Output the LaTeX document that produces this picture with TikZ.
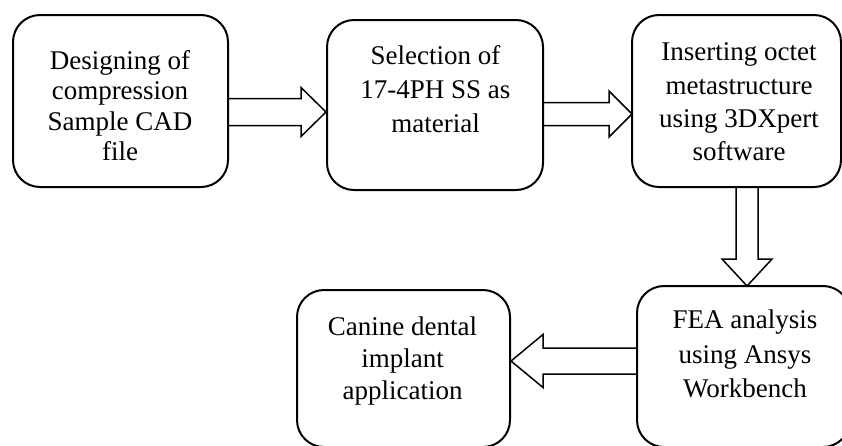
\documentclass[tikz,border=0pt]{standalone}
\usepackage{fontspec}
\setmainfont{Liberation Serif}
\usetikzlibrary{calc}

\tikzset{
  stepbox/.style={draw=black, line width=2pt, rounded corners=27pt, inner sep=0pt},
  steptext/.style={anchor=north, align=center, inner sep=0pt, text=black},
  barrow/.style={draw=black, line width=1.5pt, line join=miter},
}

% Outlined block arrow: start, tip, shaft half-width, head half-width, head length
\newcommand\blockarrow[5]{%
  \coordinate (ba-s) at #1;
  \coordinate (ba-t) at #2;
  \coordinate (ba-h) at ($(ba-t)!#5!(ba-s)$);
  \draw[barrow] ($(ba-s)!#3!90:(ba-t)$) -- ($(ba-h)!#3!90:(ba-t)$)
    -- ($(ba-h)!#4!90:(ba-t)$) -- (ba-t) -- ($(ba-h)!#4!-90:(ba-t)$)
    -- ($(ba-h)!#3!-90:(ba-t)$) -- ($(ba-s)!#3!-90:(ba-t)$);
}

\begin{document}
\begin{tikzpicture}[x=1pt, y=-1pt]
  \useasboundingbox (0,0) rectangle (842,445);
  \fill[white] (0,0) rectangle (842,445);

  % process boxes
  \node[stepbox, minimum width=215pt, minimum height=172pt] (b1) at (120.5,101) {};
  \node[stepbox, minimum width=216pt, minimum height=170pt] (b2) at (435,105) {};
  \node[stepbox, minimum width=209pt, minimum height=172pt] (b3) at (736.5,101) {};
  \node[stepbox, minimum width=213pt, minimum height=161pt] (b4) at (743.5,366.5) {};
  \node[stepbox, minimum width=213pt, minimum height=157pt] (b5) at (403.5,368.5) {};

  % box labels
  \node[steptext, font={\fontsize{27}{30.5}\selectfont}] (t1) at (120,50)
    {Designing of\\compression\\Sample CAD\\file};
  \node[steptext, font={\fontsize{27}{34.2}\selectfont}] (t2) at (435.5,45.3)
    {Selection of\\17-4PH SS as\\material};
  \node[steptext, font={\fontsize{27}{33.3}\selectfont}] (t3) at (739,42.7)
    {Inserting octet\\metastructure\\using 3DXpert\\software};
  \node[steptext, font={\fontsize{27}{34.5}\selectfont}] (t4) at (745,309.7)
    {FEA analysis\\using Ansys\\Workbench};
  \node[steptext, font={\fontsize{27}{31.7}\selectfont}] (t5) at (402.5,317)
    {Canine dental\\implant\\application};

  % flow arrows
  \blockarrow{($(b1.east)+(0,11)$)}{($(b2.west)+(0,7)$)}{13.5pt}{24.5pt}{25pt}
  \blockarrow{($(b2.east)+(0,9)$)}{($(b3.west)+(1,13)$)}{11.5pt}{23pt}{23pt}
  \blockarrow{($(b3.south)+(10.5,0)$)}{($(b4.north)+(3.5,1)$)}{11pt}{25pt}{27pt}
  \blockarrow{($(b4.west)+(0,-5.5)$)}{($(b5.east)+(0,-7.5)$)}{13pt}{26.5pt}{32pt}
\end{tikzpicture}
\end{document}
